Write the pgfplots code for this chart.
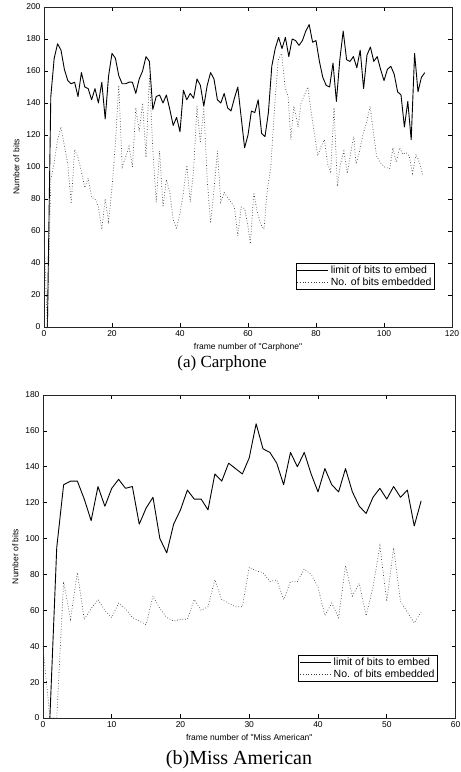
\documentclass[border=0pt]{standalone}
\usepackage{fontspec}
\setmainfont{Liberation Serif}
\newfontfamily\axisfont{Liberation Sans}
\usepackage{pgfplots}
\pgfplotsset{compat=1.18}
\begin{document}
\begin{tikzpicture}[x=1pt,y=1pt]
\pgfplotsset{
  every axis/.append style={
    scale only axis,
    anchor=south west,
    tick align=inside,
    major tick length=4pt,
    axis line style={line width=0.9pt, black!85},
    every tick/.style={black, line width=0.6pt},
    tick label style={font=\axisfont\fontsize{8.5}{10}\selectfont},
    label style={font=\axisfont\fontsize{8.5}{10}\selectfont},
    /pgf/number format/assume math mode=true,
    legend style={font=\axisfont\fontsize{10.5}{11}\selectfont, draw=black, line width=0.6pt, inner sep=1pt, anchor=north east, row sep=-2pt},
    legend cell align=left,
    legend image code/.code={\draw[#1] (0pt,0pt) -- (31pt,0pt);},
  },
  solidline/.style={black, line width=0.9pt, line join=round},
  dotline/.style={black!75, line width=0.7pt, dotted},
}
\begin{axis}[at={(44pt,445pt)}, width=408pt, height=320pt,
  xmin=0,xmax=120,ymin=0,ymax=200,
  xtick={0,20,...,120}, ytick={0,20,...,200},
  xlabel={frame number of "Carphone"}, ylabel={Number of bits},
  legend style={at={(0.958,0.2)}}]
\addplot[solidline] coordinates {
(1,0)(2,144)(3,168)(4,177)(5,173)(6,161)(7,154)(8,152)(9,153)(10,144)(11,159)(12,150)(13,149)(14,142)(15,149)(16,140)(17,153)(18,130)(19,157)(20,171)(21,168)(22,157)(23,152)(24,152)(25,153)(26,153)(27,146)(28,155)(29,160)(30,169)(31,166)(32,136)(33,144)(34,145)(35,140)(36,145)(37,136)(38,126)(39,131)(40,122)(41,148)(42,142)(43,146)(44,143)(45,155)(46,151)(47,138)(48,151)(49,159)(50,155)(51,142)(52,140)(53,146)(54,137)(55,135)(56,143)(57,150)(58,131)(59,112)(60,120)(61,135)(62,134)(63,142)(64,121)(65,119)(66,134)(67,163)(68,174)(69,181)(70,174)(71,181)(72,169)(73,180)(74,179)(75,176)(76,179)(77,185)(78,189)(79,178)(80,179)(81,166)(82,156)(83,151)(84,150)(85,165)(86,141)(87,167)(88,185)(89,167)(90,166)(91,169)(92,162)(93,173)(94,149)(95,170)(96,175)(97,166)(98,169)(99,161)(100,154)(101,161)(102,163)(103,158)(104,147)(105,145)(106,125)(107,141)(108,117)(109,171)(110,147)(111,156)(112,159)
};
\addlegendentry{limit of bits to embed}
\addplot[dotline] coordinates {
(0,58)(1,0)(2,92)(3,103)(4,117)(5,125)(6,113)(7,102)(8,77)(9,111)(10,106)(11,97)(12,87)(13,93)(14,81)(15,80)(16,75)(17,61)(18,80)(19,66)(20,87)(21,115)(22,151)(23,100)(24,106)(25,113)(26,100)(27,137)(28,122)(29,140)(30,106)(31,157)(32,111)(33,78)(34,110)(35,75)(36,92)(37,84)(38,67)(39,62)(40,71)(41,84)(42,101)(43,78)(44,98)(45,138)(46,115)(47,137)(48,92)(49,65)(50,86)(51,110)(52,78)(53,84)(54,81)(55,78)(56,75)(57,57)(58,75)(59,74)(60,63)(60.7,52)(61.7,84)(62.7,72)(63.8,64)(64.7,61)(65.6,84)(66.7,100)(67.9,140)(68.9,167)(69.9,171)(70.9,150)(71.8,144)(72.6,117)(73.5,138)(74.2,131)(74.7,125)(75.6,140)(76.6,145)(77.6,150)(78.6,134)(79.5,121)(80.5,107)(81.5,113)(82.5,117)(83.4,102)(84.3,97)(85.3,137)(86.3,88)(87.2,102)(88.2,110)(89.2,96)(90.2,109)(91.1,119)(91.8,102)(92.7,109)(93.9,121)(94.9,128)(95.9,138)(96.8,123)(97.8,107)(98.8,103)(100.2,100)(101.7,99)(102.6,112)(103.6,103)(104.6,112)(105.5,108)(106.5,109)(107.4,107)(108.4,96)(109.4,108)(110.4,103)(111.4,95)
};
\addlegendentry{No. of bits embedded}
\end{axis}
\begin{axis}[at={(43pt,54pt)}, width=412.5pt, height=323pt,
  xmin=0,xmax=60,ymin=0,ymax=180,
  xtick={0,10,...,60}, ytick={0,20,...,180},
  xlabel={frame number of "Miss American"}, ylabel={Number of bits},
  legend style={at={(0.957,0.195)}}]
\addplot[solidline] coordinates {
(1,0)(2,95)(3,130)(4,132)(5,132)(6,122)(7,110)(8,129)(9,118)(10,128)(11,133)(12,128)(13,129)(14,108)(15,117)(16,123)(17,100)(18,92)(19,108)(20,116)(21,127)(22,122)(23,122)(24,116)(25,136)(26,132)(27,142)(28,139)(29,136)(30,145)(31,164)(32,150)(33,148)(34,142)(35,130)(36,148)(37,140)(38,148)(39,136)(40,126)(41,139)(42,130)(43,126)(44,139)(45,126)(46,118)(47,114)(48,123)(49,128)(50,122)(51,129)(52,123)(53,127)(54,107)(55,121)
};
\addlegendentry{limit of bits to embed}
\addplot[dotline] coordinates {
(0,40)(1,0)(2,0)(3,76)(4,55)(5,81)(6,55)(7,61)(8,66)(9,60)(10,56)(11,64)(12,61)(13,56)(14,54)(15,52)(16,68)(17,61)(18,56)(19,54)(20,55)(21,55)(22,66)(23,60)(24,62)(25,77)(26,66)(27,64)(28,62)(29,62)(30,84)(31,82)(32,81)(33,76)(34,77)(35,66)(36,76)(37,76)(38,83)(39,80)(40,73)(41,57)(42,64)(43,56)(44,85)(45,68)(46,75)(47,57)(48,73)(49,96)(50,65)(51,95)(52,65)(53,59)(54,53)(55,59)
};
\addlegendentry{No. of bits embedded}
\end{axis}
\node[font=\fontsize{17}{20}\selectfont] at (222pt,409pt) {(a) Carphone};
\node[font=\fontsize{20}{24}\selectfont] at (239pt,12pt) {(b)Miss American};
\pgfresetboundingbox
\path (0pt,0pt) rectangle (461pt,772pt);
\end{tikzpicture}
\end{document}
